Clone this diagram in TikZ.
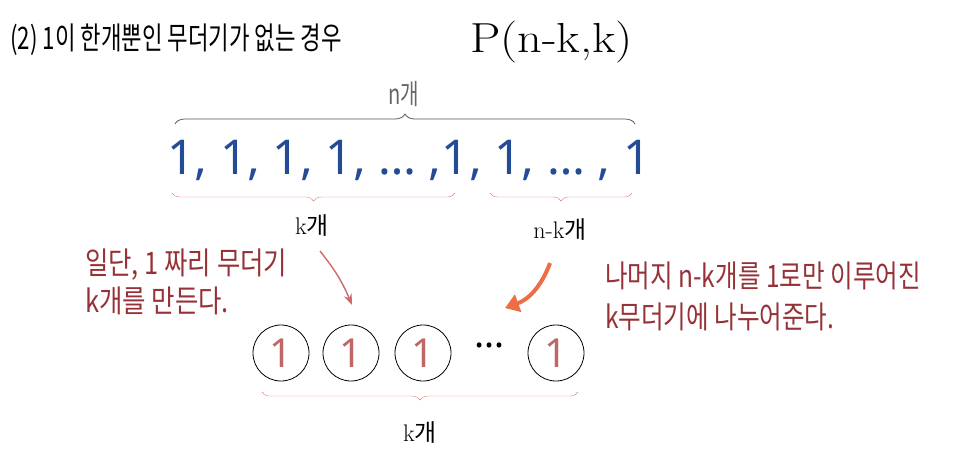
\documentclass[tikz,border=0pt]{standalone}
\usepackage{fontspec}
\newfontfamily\kor{Noto Sans CJK KR}
\newfontfamily\blu{Noto Sans}
\usetikzlibrary{decorations.pathreplacing,arrows.meta}
\definecolor{numblue}{RGB}{35,75,150}
\definecolor{txtred}{RGB}{150,50,55}
\definecolor{brpink}{RGB}{225,120,120}
\definecolor{arrorange}{RGB}{235,110,70}
\tikzset{
  brc/.style={decorate,decoration={brace,amplitude=#1}},
  krtxt/.style={xscale=0.72,inner sep=0pt},
  lbl/.style={font=\fontsize{24}{26}\selectfont,inner sep=0pt},
  ball/.style={circle,draw,thick,minimum size=56pt,inner sep=0pt,
    text=brpink!85!black,font=\blu\fontsize{40}{40}\selectfont}
}
\begin{document}
\begin{tikzpicture}[x=1pt,y=-1pt]
\useasboundingbox (0,0) rectangle (974,464);
% titulo
\node[krtxt,anchor=west,font=\kor\fontsize{31}{34}\selectfont] (title) at (10,40) {(2) 1이 한개뿐인 무더기가 없는 경우};
\node[anchor=west,inner sep=0pt,xscale=1.15,font=\fontsize{42}{44}\selectfont] (pnk) at (470,42) {P(n-k,k)};
% fila de unos
\node[inner sep=0pt,text=numblue,font=\blu\fontsize{48}{50}\selectfont,anchor=west] (row) at (167,160) {1,~1,~1,~1,~\dots~,1,~1,~\dots~,~1};
\coordinate (nl) at (175,124);
\coordinate (nr) at (635,124);
\draw[brc=10pt,gray!70!black,thick] (nl) -- (nr);
\node[krtxt,text=gray!80!black,font=\kor\fontsize{28}{30}\selectfont] (ntop) at (404,94) {n개};
\coordinate (kl) at (172,193);
\coordinate (kr) at (455,193);
\coordinate (ml) at (490,193);
\coordinate (mr) at (632,193);
\draw[brc=8pt,brpink] (kr) -- (kl);
\draw[brc=8pt,brpink] (mr) -- (ml);
\node[lbl] (klab) at (312,226) {k\kor 개};
\node[lbl] (mlab) at (560,230) {n-k\kor 개};
% textos rojos
\node[krtxt,xscale=1.14,text=txtred,anchor=west,align=left,font=\kor\fontsize{31}{38}\selectfont] (lefttxt) at (85,282) {일단, 1 짜리 무더기\\k개를 만든다.};
\node[krtxt,xscale=1.1,text=txtred,anchor=west,align=left,font=\kor\fontsize{31}{41}\selectfont] (righttxt) at (605,296) {나머지 n-k개를 1로만 이루어진\\k무더기에 나누어준다.};
% montones
\node[ball] (b1) at (281,353) {1};
\node[ball] (b2) at (351,353) {1};
\node[ball] (b3) at (423,353) {1};
\node[inner sep=0pt,font=\blu\bfseries\fontsize{38}{38}\selectfont] (bdots) at (490,345) {\dots};
\node[ball] (b4) at (556,353) {1};
\coordinate (cl) at (262,392);
\coordinate (cr) at (578,392);
\draw[brc=8pt,brpink] (cr) -- (cl);
\node[lbl] (clab) at (420,433) {k\kor 개};
% flechas
\coordinate (a1) at (352,305);
\coordinate (a2) at (505,308);
\draw[brpink!90!black,line width=1.4pt,-{Stealth[length=11pt]}] (klab.south)+(8,14) to[bend left=8] (a1);
\draw[arrorange,line width=4pt,-{Triangle[length=14pt,width=18pt]}] (mlab.south)+(-10,22) to[bend left=25] (a2);
\end{tikzpicture}
\end{document}
